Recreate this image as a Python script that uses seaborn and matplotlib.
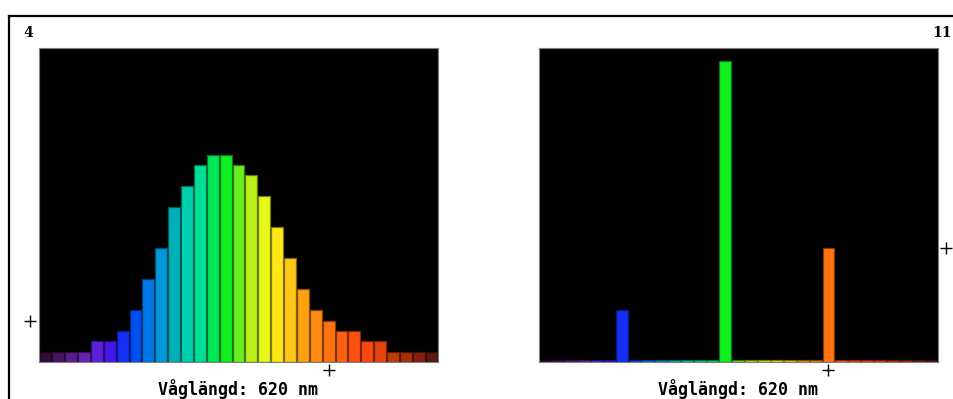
import matplotlib
matplotlib.use("Agg")
import matplotlib.pyplot as plt
import matplotlib.colors as mcolors
from matplotlib.lines import Line2D
import pandas as pd
import seaborn as sns

# Data: wavelength bins 400-700 nm, step 10
wavelengths = [400, 410, 420, 430, 440, 450, 460, 470, 480, 490, 500,
               510, 520, 530, 540, 550, 560, 570, 580, 590, 600,
               610, 620, 630, 640, 650, 660, 670, 680, 690, 700]
spectrum_colors = ["#2e0c3a", "#46135e", "#5a1c8c", "#6a22b4", "#5a22d8", "#4418ea",
                   "#1430f5", "#0050f0", "#0078ea", "#0098d8", "#00b0b8", "#00d0b0",
                   "#00de98", "#00e858", "#10f020", "#66f020", "#b8f018", "#e8f818",
                   "#ffe818", "#ffc818", "#ffa010", "#ff8c10", "#ff7410", "#ff6010",
                   "#ff5010", "#ff4810", "#e84410", "#c03c08", "#a83008", "#882010",
                   "#5a1a12"]
# Left panel: broad (thermal) spectrum
left_values = [1, 1, 1, 1, 2, 2, 3, 5, 8, 11, 15, 17, 19, 20, 20, 19,
               18, 16, 13, 10, 7, 5, 4, 3, 3, 2, 2, 1, 1, 1, 1]
# Right panel: line spectrum
right_values = [0.15, 0.15, 0.15, 0.15, 0.15, 0.15, 5, 0.15, 0.15, 0.15, 0.15,
                0.15, 0.15, 0.15, 29, 0.15, 0.15, 0.15, 0.15, 0.15, 0.15,
                0.15, 11, 0.15, 0.15, 0.15, 0.15, 0.15, 0.15, 0.15, 0.15]
left_label = "4"
right_label = "11"
left_marker = 4
right_marker = 11
selected_nm = 620
xlabel = "Våglängd: 620 nm"

W, H = 954, 399
fig = plt.figure(figsize=(W / 100, H / 100), dpi=100)
fig.patch.set_facecolor("white")

# Outer frame (top and left edges visible)
fig.add_artist(Line2D([9 / W, 1], [1 - 16 / H, 1 - 16 / H], color="black", lw=1.6))
fig.add_artist(Line2D([9 / W, 9 / W], [0, 1 - 16 / H], color="black", lw=1.6))

edge_colors = [tuple(c * 0.5 for c in mcolors.to_rgb(h)) for h in spectrum_colors]
sel_idx = wavelengths.index(selected_nm)


def draw_panel(rect, values, marker_val, marker_side):
    ax = fig.add_axes(rect)
    df = pd.DataFrame({"nm": [str(w) for w in wavelengths], "value": values})
    sns.barplot(data=df, x="nm", y="value", hue="nm", palette=spectrum_colors,
                legend=False, width=0.92, linewidth=0.9, saturation=1, ax=ax)
    for patch, ec in zip(ax.patches, edge_colors):
        patch.set_edgecolor(ec)
    ax.set_facecolor("black")
    ax.set_xlim(-0.5, len(wavelengths) - 0.5)
    ax.set_ylim(0, 30.3)
    ax.set_xticks([])
    ax.set_yticks([])
    ax.set_xlabel("")
    ax.set_ylabel("")
    for s in ax.spines.values():
        s.set_color("#808080")
        s.set_linewidth(0.8)

    # "+" markers: y level and selected wavelength
    mx = -0.0225 if marker_side == "left" else 1.02
    ax.plot([mx], [marker_val], marker="+", color="black", markersize=9,
            markeredgewidth=1.0, clip_on=False, transform=ax.get_yaxis_transform())
    ax.plot([sel_idx], [-0.026], marker="+", color="black", markersize=9,
            markeredgewidth=1.0, clip_on=False, transform=ax.get_xaxis_transform())

    ax.text(0.5, -0.086, xlabel, transform=ax.transAxes, ha="center", va="center",
            fontsize=12, fontweight="bold", family="DejaVu Sans Mono")
    return ax


draw_panel([39 / W, 37 / H, 399 / W, 314 / H], left_values, left_marker, "left")
draw_panel([538.5 / W, 37 / H, 399.5 / W, 314 / H], right_values, right_marker, "right")

# Corner labels
fig.text(28 / W, 1 - 33 / H, left_label, ha="center", va="center",
         fontsize=10, fontweight="bold", family="DejaVu Serif")
fig.text(952 / W, 1 - 33 / H, right_label, ha="right", va="center",
         fontsize=10, fontweight="bold", family="DejaVu Serif")

fig.savefig("out.png", dpi=100, facecolor="white")
